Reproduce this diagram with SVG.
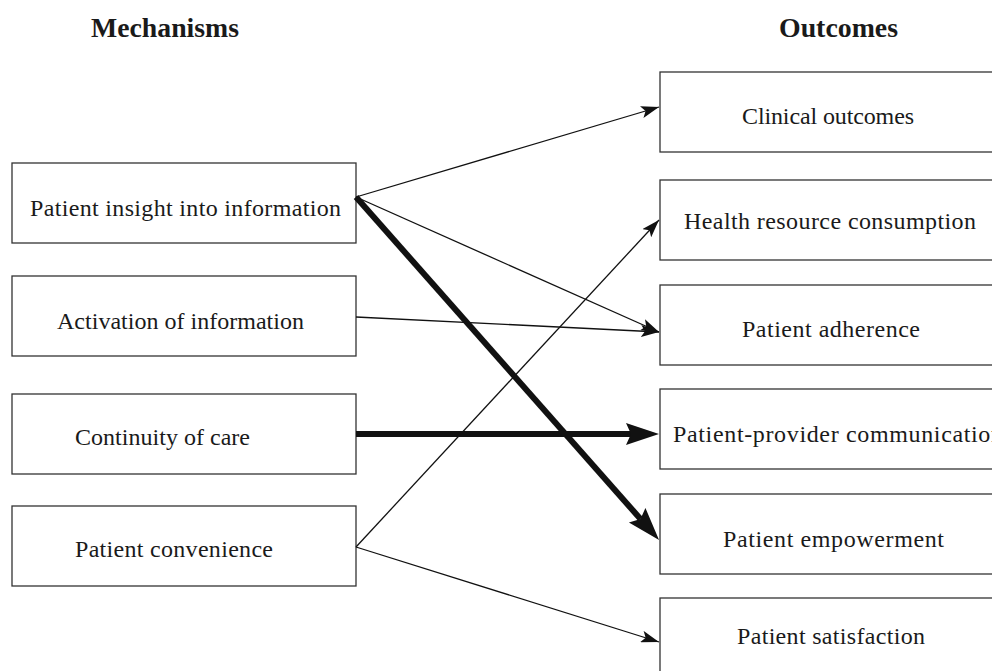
<svg xmlns="http://www.w3.org/2000/svg" width="992" height="671" viewBox="0 0 992 671">
<defs>
<marker id="ah" markerUnits="userSpaceOnUse" markerWidth="20" markerHeight="12" refX="18" refY="6" orient="auto"><path d="M0,0 L18,6 L0,12 L4,6 z" fill="#111"/></marker>
<marker id="ahb" markerUnits="userSpaceOnUse" markerWidth="34" markerHeight="24" refX="5" refY="12" orient="auto"><path d="M0,1 L33,12 L0,23 L5,12 z" fill="#111"/></marker>
</defs>
<style>
.box{fill:#fff;stroke:#333;stroke-width:1.3}
.t{font-family:"Liberation Serif","DejaVu Serif",serif;font-size:24px;fill:#1a1a1a}
.h{font-family:"Liberation Serif","DejaVu Serif",serif;font-size:27px;font-weight:bold;fill:#1a1a1a}
.thin{stroke:#111;stroke-width:1.3;fill:none;marker-end:url(#ah)}
.thick{stroke:#111;stroke-width:6;fill:none;marker-end:url(#ahb)}
</style>
<rect width="992" height="671" fill="#fff"/>
<text class="h" x="91" y="37" textLength="148" lengthAdjust="spacingAndGlyphs">Mechanisms</text>
<text class="h" x="779" y="37" textLength="119" lengthAdjust="spacingAndGlyphs">Outcomes</text>
<g id="m1"><rect class="box" x="12" y="163" width="344" height="80"/><text class="t" x="30" y="216" textLength="311">Patient insight into information</text></g>
<g id="m2"><rect class="box" x="12" y="276" width="344" height="80"/><text class="t" x="57" y="329" textLength="247">Activation of information</text></g>
<g id="m3"><rect class="box" x="12" y="394" width="344" height="80"/><text class="t" x="75" y="445" textLength="175">Continuity of care</text></g>
<g id="m4"><rect class="box" x="12" y="506" width="344" height="80"/><text class="t" x="75" y="557" textLength="198">Patient convenience</text></g>
<g id="o1"><rect class="box" x="660" y="72" width="340" height="80"/><text class="t" x="742" y="124" textLength="172">Clinical outcomes</text></g>
<g id="o2"><rect class="box" x="660" y="180" width="340" height="80"/><text class="t" x="684" y="229" textLength="292">Health resource consumption</text></g>
<g id="o3"><rect class="box" x="660" y="285" width="340" height="80"/><text class="t" x="742" y="337" textLength="178">Patient adherence</text></g>
<g id="o4"><rect class="box" x="660" y="389" width="340" height="80"/><text class="t" x="673" y="442" textLength="330">Patient-provider communication</text></g>
<g id="o5"><rect class="box" x="660" y="494" width="340" height="80"/><text class="t" x="723" y="547" textLength="221">Patient empowerment</text></g>
<g id="o6"><rect class="box" x="660" y="598" width="340" height="90"/><text class="t" x="737" y="644" textLength="188">Patient satisfaction</text></g>
<g id="connectors">
<line class="thin" x1="356" y1="197" x2="659" y2="107"/>
<line class="thin" x1="356" y1="197" x2="659" y2="332"/>
<line class="thick" x1="356" y1="197" x2="640.5" y2="519"/>
<line class="thin" x1="356" y1="317" x2="659" y2="332"/>
<line class="thick" x1="356" y1="434" x2="631" y2="434"/>
<line class="thin" x1="356" y1="547" x2="659" y2="220"/>
<line class="thin" x1="356" y1="547" x2="659" y2="642"/>
</g>
</svg>
